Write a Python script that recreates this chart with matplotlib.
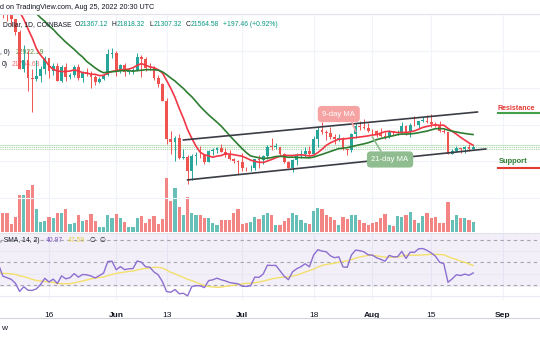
import numpy as np
import pandas as pd
import matplotlib
matplotlib.use("Agg")
import matplotlib.pyplot as plt
from matplotlib.lines import Line2D

plt.rcParams['font.family'] = ['Liberation Sans', 'DejaVu Sans']

W, H = 540, 340

# ---------------- data (BTC/USD daily, Coinbase) ----------------
dates = pd.date_range("2022-05-04", "2022-08-25", freq="D")

open_ = [37720, 39690, 36550, 36010, 35470, 34040, 30080, 31010, 29080, 28970, 29260, 30080, 31300, 29850,
         30420, 28700, 30300, 29180, 29430, 30280, 29100, 29650, 29540, 29200, 28620, 29020, 29450, 31730,
         31800, 29800, 30450, 29700, 29860, 29910, 31370, 31120, 30200, 30110, 29080, 28420, 26580, 22490,
         22140, 22580, 20400, 20470, 19000, 20570, 20720, 20700, 19970, 21100, 21230, 21490, 21040, 20730,
         20280, 20100,
         19930, 19290, 19240, 19300, 20230, 20190, 20550, 21630, 21590, 21600, 20850, 19960, 19320, 20210,
         20580, 20830, 21190, 20780, 22430, 23390, 23220, 23150, 22680, 22450, 22580, 21310, 21250, 22950,
         23840, 23770, 23640,
         23300, 23270, 22990, 22820, 22620, 23310, 23170, 23180, 23810, 23160, 23950, 23930, 24400, 24440,
         24300, 24100, 23850, 23340, 23200, 20830, 21140, 21520, 21400, 21530, 21367.12]
high = [39900, 39850, 36650, 36130, 35500, 34240, 32650, 32160, 30100, 30990, 30330, 31420, 31300, 30760,
        30680, 30530, 30730, 29620, 30460, 30650, 29820, 30180, 29840, 29350, 29200, 29540, 32200, 32380,
        31980, 30650, 30680, 29950, 30160, 31750, 31550, 31320, 30680, 30380, 29450, 28560, 26880, 23320,
        22760, 22980, 21350, 20760, 20790, 21020, 21700, 20860, 21220, 21500, 21580, 21860, 21520, 21200,
        20410, 20140,
        20880, 19430, 19650, 20320, 20740, 20660, 21820, 22500, 21960, 21600, 20870, 20050, 20240, 20880,
        21200, 21590, 21680, 22740, 23780, 24280, 23430, 23750, 22990, 23000, 22640, 21340, 23080, 24180,
        24440, 24650, 24190,
        23500, 23460, 23650, 23220, 23460, 23360, 23410, 24250, 23920, 24200, 24900, 24450, 24890, 25050,
        25210, 24250, 24450, 23600, 23210, 21380, 21690, 21520, 21650, 21870, 21818.32]
low = [37580, 35570, 35260, 34780, 33710, 30030, 29730, 27700, 25400, 28760, 28660, 29480, 29090, 29430,
       28700, 28690, 28730, 28950, 29220, 28860, 28600, 29290, 28020, 28280, 28560, 28850, 29300, 31210,
       29310, 29580, 29320, 29490, 29520, 29890, 29230, 29860, 29970, 28880, 28110, 26580, 21930, 20850,
       20080, 20230, 20300, 17600, 17960, 19640, 20350, 19770, 19900, 20760, 20950, 21000, 20520, 20190,
       19850, 18620,
       19000, 19000, 18980, 19060, 19300, 19770, 20260, 21200, 21350, 20660, 19880, 19240, 18910, 19630,
       20400, 20470, 20760, 20760, 21580, 23030, 22340, 22470, 21950, 22270, 21260, 20720, 21040, 22600,
       23410, 23520, 23240,
       22850, 22670, 22680, 22440, 22590, 22930, 22880, 23150, 22880, 22670, 23900, 23600, 24300, 24150,
       23780, 23700, 23180, 23090, 20800, 20770, 21080, 20890, 20900, 21170, 21307.32]
close = [39690, 36550, 36010, 35470, 34040, 30080, 31010, 29080, 28970, 29260, 30080, 31300, 29850, 30420,
         28700, 30300, 29180, 29430, 30280, 29100, 29650, 29540, 29200, 28620, 29020, 29450, 31730, 31800,
         29800, 30450, 29700, 29860, 29910, 31370, 31120, 30200, 30110, 29080, 28420, 26580, 22490, 22140,
         22580, 20400, 20470, 19000, 20570, 20720, 20700, 19970, 21100, 21230, 21490, 21040, 20730, 20280,
         20100, 19930,
         19290, 19240, 19300, 20230, 20190, 20550, 21630, 21590, 21600, 20850, 19960, 19320, 20210, 20580,
         20830, 21190, 20780, 22430, 23390, 23220, 23150, 22680, 22450, 22580, 21310, 21250, 22950, 23840,
         23770, 23640, 23300,
         23270, 22990, 22820, 22620, 23310, 23170, 23180, 23810, 23160, 23950, 23930, 24400, 24440, 24300,
         24100, 23850, 23340, 23200, 20830, 21140, 21520, 21400, 21530, 21370, 21564.58]
volume_k = [30, 29, 29, 12, 23, 56, 56, 63, 71, 35, 15, 17, 23, 21, 29, 29, 35, 12, 14, 26, 17, 18, 27, 17,
            8, 8, 26, 21,
            27, 21, 15, 8, 8, 21, 24, 14, 20, 24, 12, 20, 81, 47, 66, 38, 26, 53, 29, 26, 26, 21, 21, 14,
            11, 18, 18, 18, 29, 35,
            12, 14, 15, 23, 20, 26, 29, 26, 11, 11, 17, 21, 29, 26, 18, 14, 12, 32, 36, 35, 26, 23, 18, 11,
            23, 20, 26, 26, 18, 14, 11,
            14, 15, 21, 27, 11, 9, 24, 23, 26, 30, 18, 14, 24, 29, 21, 23, 14, 14, 45, 18, 26, 21, 21, 18, 15]
# closes before the visible window (Mar 1 - May 3), only used to warm up the indicators
prior_close = [44420, 43900, 42460, 39140, 39400, 38420, 37990, 38740, 41940, 39430, 38730, 38810, 37780,
               39670, 39280, 41120, 40920, 41760, 42200, 41260, 41000, 42360, 42890, 43960, 44350, 44500,
               46820, 47130, 47430, 47060, 45530,
               46300, 45810, 46400, 46620,
               45500, 43200, 43450, 42250, 42760, 42160, 39530, 40070, 41150, 39940, 40550, 40380, 39700,
               40800, 41500, 41370, 40480, 39710, 39450, 39450, 40430, 38120, 39240, 39740, 38600, 37630,
               38470, 38520, 37720]

tick_dates = ["2022-05-16", "2022-06-01", "2022-06-13", "2022-07-01", "2022-07-18", "2022-08-01",
              "2022-08-15", "2022-09-01"]
tick_labels = ["16", "Jun", "13", "Jul", "18", "Aug", "15", "Sep"]
month_labels = {"Jun", "Jul", "Aug", "Sep"}

channel_upper = [("2022-06-17", 22340), ("2022-08-26", 25380)]
channel_lower = [("2022-06-18", 18000), ("2022-08-28", 21360)]
resistance_level = ("2022-08-31", 25270)
support_level = ("2022-08-31", 19290)

legend_ohlc = [("O", "21367.12"), ("H", "21818.32"), ("L", "21307.32"), ("C", "21564.58")]
legend_change = "+197.46 (+0.92%)"
legend_ma21 = "22922.19"
legend_ma9 = "21764.63"
legend_rsi = "40.97"
legend_rsi_ma = "47.59"

# ---------------- helpers ----------------
origin = pd.Timestamp("2022-05-16")
def dn(s):
    return (pd.Timestamp(s) - origin).days
def fx(x):
    return x / W
def fy(y):
    return 1 - y / H

dnum = (dates - origin).days.values.astype(float)
o = np.array(open_, float); c = np.array(close, float)
hi = np.array(high, float); lo = np.array(low, float)
up = c >= o
UP, DOWN = '#26a69a', '#ef5350'
cols = np.where(up, UP, DOWN)

allc = pd.Series(prior_close + close, dtype=float)
n0 = len(prior_close)
ma9 = allc.rolling(9).mean().values[n0:]
ma21 = allc.rolling(21).mean().values[n0:]

# RSI 14 (Wilder / RMA, seeded with a simple average) and its 14-period SMA
chg = np.diff(allc.values)
g = np.clip(chg, 0, None); l_ = np.clip(-chg, 0, None)
N = 14
rsi_all = np.full(len(allc), np.nan)
ag = g[:N].mean(); al = l_[:N].mean()
rsi_all[N] = 100 - 100 / (1 + ag / al)
for i in range(N, len(chg)):
    ag = (ag * (N - 1) + g[i]) / N
    al = (al * (N - 1) + l_[i]) / N
    rsi_all[i + 1] = 100 - 100 / (1 + ag / al)
rsi_s = pd.Series(rsi_all)
rsi_ma_all = rsi_s.rolling(N).mean()
rsi_v = rsi_s.values[n0:]
rsi_ma_v = rsi_ma_all.values[n0:]

# ---------------- figure ----------------
fig = plt.figure(figsize=(5.4, 3.4), dpi=100)
fig.patch.set_facecolor('white')

XL = (-49 / 4.2, (540 - 49) / 4.2)
main_rect = [0, fy(232), 1, (232 - 14) / H]
ax_vol = fig.add_axes(main_rect)
ax = fig.add_axes(main_rect, sharex=ax_vol)
ax.set_facecolor('none')
ax_rsi = fig.add_axes([0, fy(300), 1, 66 / H], sharex=ax_vol)

for a in (ax_vol, ax, ax_rsi):
    for s in a.spines.values():
        s.set_visible(False)
    a.tick_params(left=False, labelleft=False, bottom=False, labelbottom=False)
ax_vol.set_xlim(*XL)

tick_days = [dn(t) for t in tick_dates]
GRID = '#f0f3fa'
for t in tick_days:
    ax_vol.axvline(t, color=GRID, lw=0.8, zorder=0)
    ax_rsi.axvline(t, color=GRID, lw=0.8, zorder=0)

# volume
ax_vol.bar(dnum, volume_k, width=0.75, color=cols, alpha=0.7, linewidth=0, zorder=2)
ax_vol.set_ylim(0, 218 * 1.5)

# price
ax.set_ylim(12337, 36032)
for p in range(12000, 40001, 4000):
    ax.axhline(p, color=GRID, lw=0.8, zorder=0)
ax.axhline(hi[-1], color='#c3e4c5', lw=0.8, zorder=1)
ax.axhline(c[-1], color='#a8d5aa', lw=0.8, ls=(0, (1, 1)), zorder=1)
ax.axhline(lo[-1], color='#a8d5aa', lw=0.8, ls=(0, (1, 1)), zorder=1)

fs = 4.9
# indicator legend texts (under candles)
ax.text(fx(0), fy(53), ", 0)", transform=fig.transFigure, fontsize=fs, color='#131722', va='center', zorder=1)
ax.text(fx(16), fy(53), legend_ma21, transform=fig.transFigure, fontsize=fs, color='#5b8f3a', va='center', zorder=1)
ax.text(fx(2), fy(65), "0)", transform=fig.transFigure, fontsize=fs, color='#131722', va='center', zorder=1)
ax.text(fx(12), fy(65), legend_ma9, transform=fig.transFigure, fontsize=fs, color='#f26d6d', va='center', zorder=1)

ax.vlines(dnum, lo, hi, colors=cols, lw=0.7, zorder=3)
body = np.maximum(np.abs(c - o), 60)
ax.bar(dnum, body, bottom=np.minimum(o, c), width=0.7, color=cols, linewidth=0, zorder=4)

ax.plot(dnum, ma9, color='#f23645', lw=1.2, zorder=5, solid_capstyle='round')
ax.plot(dnum, ma21, color='#2e7d32', lw=1.2, zorder=5, solid_capstyle='round')

for ch in (channel_upper, channel_lower):
    ax.plot([dn(ch[0][0]), dn(ch[1][0])], [ch[0][1], ch[1][1]], color='#3a3d45', lw=1.2, zorder=6)

# callouts
ax.plot([dn("2022-07-27"), dn("2022-07-28")], [24400, 23300], color='#f5a3a3', lw=1.2, zorder=6)
ax.text(dn("2022-07-24"), 25160, "9-day MA", fontsize=5.5, color='white', ha='center', va='center', zorder=7,
        bbox=dict(boxstyle='round,pad=0.6,rounding_size=0.5', fc='#f5a3a3', ec='none'))
ax.plot([dn("2022-08-01"), dn("2022-08-03")], [22660, 21140], color='#8fbd8f', lw=1.2, zorder=6)
ax.text(dn("2022-08-05") + 0.2, 20220, "21-day MA", fontsize=5.5, color='white', ha='center', va='center', zorder=7,
        bbox=dict(boxstyle='round,pad=0.6,rounding_size=0.5', fc='#8fbd8f', ec='none'))

# resistance / support labels
rx = dn(resistance_level[0])
ax.plot([rx - 0.2, XL[1] + 2], [resistance_level[1]] * 2, color='#43a047', lw=1.5, zorder=6, clip_on=False)
ax.text(rx - 0.1, 25710, "Resistance", fontsize=5.1, fontweight='bold', color='#e53935', va='center', zorder=7)
ax.plot([rx - 0.2, XL[1] + 2], [support_level[1]] * 2, color='#e53935', lw=1.5, zorder=6, clip_on=False)
ax.text(rx + 0.1, 19950, "Support", fontsize=5.4, fontweight='bold', color='#2e7d32', va='center', zorder=7)

# RSI pane
ax_rsi.set_ylim(16.67, 75.33)
ax_rsi.axhspan(28, 76, color='#7e57c2', alpha=0.09, lw=0, zorder=0)
for v in (20, 40, 60):
    ax_rsi.axhline(v, color='#ebe7f3', lw=0.8, zorder=1)
for v in (70, 50, 30):
    ax_rsi.axhline(v, color='#a3a6af', lw=0.8, ls=(0, (3, 3)), zorder=2)
ax_rsi.plot(dnum, rsi_ma_v, color='#f3e06b', lw=1.0, zorder=3)
ax_rsi.plot(dnum, rsi_v, color='#8c6fd0', lw=1.0, zorder=4)

ax_rsi.set_xticks(tick_days)
ax_rsi.set_xticklabels(tick_labels)
ax_rsi.tick_params(bottom=False, labelbottom=True, pad=5, labelsize=6, labelcolor='#131722')
for lab in ax_rsi.get_xticklabels():
    if lab.get_text() in month_labels:
        lab.set_fontweight('bold')

# separators
for yy, col in ((13.5, '#e0e3eb'), (232.5, '#e0e3eb'), (318, '#d1d4dc')):
    fig.add_artist(Line2D([0, 1], [fy(yy), fy(yy)], transform=fig.transFigure, color=col, lw=0.8))

# header / legends
TXT = '#131722'
TEAL = '#089981'
fig.text(fx(0), fy(7.5), "d on TradingView.com, Aug 25, 2022 20:30 UTC", fontsize=5.2, color=TXT, va='center')
fig.text(fx(3), fy(25), "Dollar, 1D, COINBASE", fontsize=fs, color=TXT, va='center')
for (k, v), x0 in zip(legend_ohlc, (75, 112, 149, 186)):
    fig.text(fx(x0), fy(25), k, fontsize=fs, color=TXT, va='center')
    fig.text(fx(x0 + 4.5), fy(25), v, fontsize=fs, color=TEAL, va='center')
fig.text(fx(223), fy(25), legend_change, fontsize=fs, color=TEAL, va='center')

fig.text(fx(0), fy(240.5), ", SMA, 14, 2)", fontsize=fs, color=TXT, va='center')
fig.text(fx(46), fy(240.5), legend_rsi, fontsize=fs, color='#7e57c2', va='center')
fig.text(fx(68), fy(240.5), legend_rsi_ma, fontsize=fs, color='#e9cf45', va='center')
fig.text(fx(90), fy(240.5), "\u2205", fontsize=fs, color=TXT, va='center', family='DejaVu Sans')
fig.text(fx(100), fy(240.5), "\u2205", fontsize=fs, color=TXT, va='center', family='DejaVu Sans')

fig.text(fx(1), fy(329), "w", fontsize=6, color=TXT, va='center')

fig.savefig("out.png", dpi=100, facecolor='white')
